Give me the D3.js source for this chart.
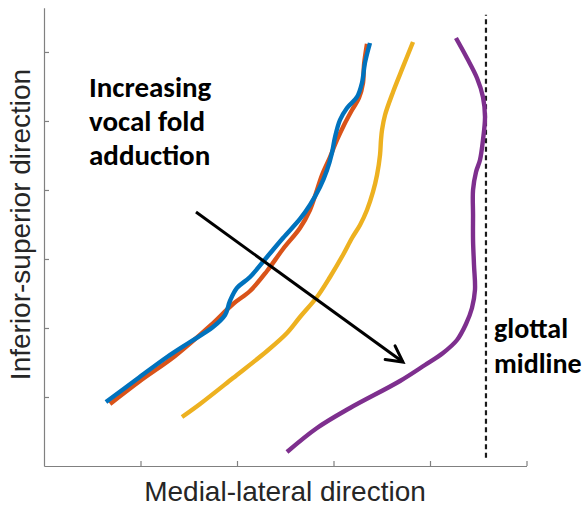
<!DOCTYPE html>
<html>
<head>
<meta charset="utf-8">
<script src="https://cdn.jsdelivr.net/npm/d3@7"></script>
<style>
  html, body { margin: 0; padding: 0; background: #fff; }
  svg { display: block; }
</style>
</head>
<body>
<svg id="chart" width="587" height="506"></svg>
<script>
// Vocal fold medial surface profiles (medial-lateral vs inferior-superior), arbitrary units
const xTicks = [1, 2, 3, 4, 5];
const yTicks = [1, 2, 3, 4, 5, 6];

const profileOrange = [
  [0.684, 0.899], [0.995, 1.232], [1.358, 1.594], [1.720, 2.029], [1.959, 2.348],
  [2.135, 2.536], [2.311, 2.826], [2.477, 3.145], [2.653, 3.449], [2.756, 3.710],
  [2.819, 3.957], [2.881, 4.217], [2.964, 4.478], [3.036, 4.725], [3.109, 4.942],
  [3.192, 5.159], [3.264, 5.333], [3.306, 5.551], [3.316, 5.812], [3.347, 6.116]
];

const profileBlue = [
  [0.642, 0.928], [0.964, 1.261], [1.275, 1.580], [1.513, 1.797], [1.751, 2.014],
  [1.876, 2.188], [1.927, 2.391], [2.000, 2.580], [2.135, 2.739], [2.311, 3.029],
  [2.477, 3.304], [2.653, 3.580], [2.756, 3.783], [2.860, 4.043], [2.933, 4.290],
  [2.984, 4.536], [3.016, 4.768], [3.067, 5.014], [3.140, 5.188], [3.244, 5.348],
  [3.295, 5.551], [3.326, 5.841], [3.378, 6.130]
];

const profileYellow = [
  [1.430, 0.710], [1.617, 0.899], [1.959, 1.275], [2.311, 1.667], [2.518, 1.928],
  [2.653, 2.159], [2.829, 2.449], [2.964, 2.739], [3.098, 3.058], [3.192, 3.304],
  [3.275, 3.493], [3.347, 3.710], [3.409, 3.971], [3.451, 4.217], [3.482, 4.507],
  [3.492, 4.725], [3.503, 4.870], [3.534, 5.087], [3.617, 5.420], [3.720, 5.783],
  [3.824, 6.145]
];

const profilePurple = [
  [2.518, 0.203], [2.829, 0.551], [3.171, 0.841], [3.689, 1.232], [3.948, 1.464],
  [4.135, 1.638], [4.280, 1.826], [4.373, 2.058], [4.435, 2.290], [4.466, 2.551],
  [4.456, 2.913], [4.446, 3.275], [4.446, 3.638], [4.446, 4.000], [4.477, 4.261],
  [4.518, 4.435], [4.549, 4.725], [4.570, 5.058], [4.549, 5.348], [4.487, 5.623],
  [4.383, 5.913], [4.269, 6.203]
];

const midlineX = 4.58;
const midlineSpan = [0.12, 6.54];
const arrowFrom = [1.575, 3.681];
const arrowTo = [3.720, 1.507];

const seriesColors = ["#D95319", "#0072BD", "#EDB120", "#7E2F8E"];
const series = [profileOrange, profileBlue, profileYellow, profilePurple];

const svg = d3.select("#chart");

const x = d3.scaleLinear().domain([0, 5]).range([44, 526.5]);
const y = d3.scaleLinear().domain([0, 6.64]).range([466, 7.8]);

// Axes (ticks pointing inward, no labels)
const axisColor = "#808080";
const gx = svg.append("g")
  .attr("transform", `translate(0,${y(0)})`)
  .call(d3.axisBottom(x).tickValues(xTicks).tickSizeInner(-5).tickSizeOuter(0).tickFormat(""));
const gy = svg.append("g")
  .attr("transform", `translate(${x(0)},0)`)
  .call(d3.axisLeft(y).tickValues(yTicks).tickSizeInner(-5).tickSizeOuter(0).tickFormat(""));
[gx, gy].forEach(g => {
  g.select(".domain").attr("stroke", axisColor).attr("stroke-width", 1.2);
  g.selectAll(".tick line").attr("stroke", axisColor).attr("stroke-width", 1.2);
});

// Glottal midline
svg.append("line")
  .attr("x1", x(midlineX)).attr("x2", x(midlineX))
  .attr("y1", y(midlineSpan[0])).attr("y2", y(midlineSpan[1]))
  .attr("stroke", "#1a1a1a").attr("stroke-width", 2.2)
  .attr("stroke-dasharray", "5,3.5");

// Profiles
const line = d3.line()
  .x(d => x(d[0]))
  .y(d => y(d[1]))
  .curve(d3.curveCatmullRom.alpha(0.5));

svg.append("g").selectAll("path")
  .data(series)
  .join("path")
  .attr("d", line)
  .attr("fill", "none")
  .attr("stroke", (d, i) => seriesColors[i])
  .attr("stroke-width", 4.4)
  .attr("stroke-linejoin", "round")
  .attr("stroke-linecap", "butt");

// Trend arrow
const ax0 = x(arrowFrom[0]), ay0 = y(arrowFrom[1]);
const ax1 = x(arrowTo[0]), ay1 = y(arrowTo[1]);
const theta = Math.atan2(ay1 - ay0, ax1 - ax0);
const barb = 18, spread = 28 * Math.PI / 180;
svg.append("line")
  .attr("x1", ax0).attr("y1", ay0).attr("x2", ax1).attr("y2", ay1)
  .attr("stroke", "#000").attr("stroke-width", 3);
svg.append("path")
  .attr("d", `M${ax1 - barb * Math.cos(theta + spread)},${ay1 - barb * Math.sin(theta + spread)}`
    + `L${ax1},${ay1}`
    + `L${ax1 - barb * Math.cos(theta - spread)},${ay1 - barb * Math.sin(theta - spread)}`)
  .attr("fill", "none").attr("stroke", "#000").attr("stroke-width", 3)
  .attr("stroke-linejoin", "miter").attr("stroke-linecap", "round");

// Annotations
const boldFont = "Carlito, Lato, 'Open Sans', sans-serif";
const note = svg.append("text")
  .attr("font-family", boldFont).attr("font-weight", "bold")
  .attr("font-size", 29).attr("fill", "#000");
["Increasing", "vocal fold", "adduction"].forEach((t, i) => {
  note.append("tspan").attr("x", 89).attr("y", 97 + i * 34).text(t);
});

const mid = svg.append("text")
  .attr("font-family", boldFont).attr("font-weight", "bold")
  .attr("font-size", 28).attr("fill", "#000");
["glottal", "midline"].forEach((t, i) => {
  mid.append("tspan").attr("x", 494).attr("y", 338 + i * 35).text(t);
});

// Axis titles
const labelFont = "'Liberation Sans', Arial, Helvetica, sans-serif";
svg.append("text")
  .attr("x", 285).attr("y", 501)
  .attr("text-anchor", "middle")
  .attr("font-family", labelFont).attr("font-size", 28)
  .attr("fill", "#262626")
  .text("Medial-lateral direction");
svg.append("text")
  .attr("transform", "translate(30,224.5) rotate(-90)")
  .attr("text-anchor", "middle")
  .attr("font-family", labelFont).attr("font-size", 28)
  .attr("fill", "#262626")
  .text("Inferior-superior direction");
</script>
</body>
</html>
